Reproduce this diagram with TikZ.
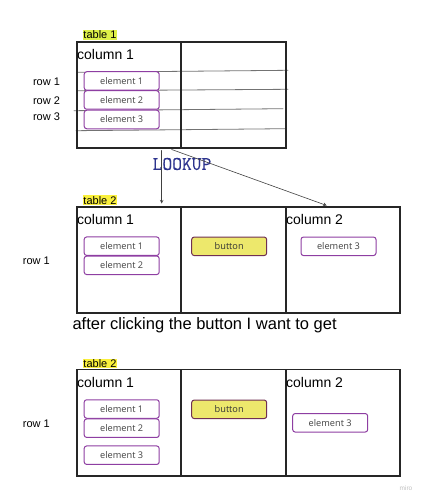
\documentclass[tikz,border=0pt]{standalone}
\usepackage{fontspec}
\setmainfont{Liberation Sans}
\newfontfamily\elemfont{Open Sans}
\newfontfamily\lookupfont{Latin Modern Mono}[FakeBold=0.5]
\usepackage{tikz}
\usetikzlibrary{calc}
\definecolor{elemedge}{RGB}{142,62,162}
\definecolor{btnfill}{RGB}{237,232,108}
\definecolor{btnedge}{RGB}{112,48,82}
\definecolor{hilite1}{RGB}{222,240,72}
\definecolor{hilite2}{RGB}{250,240,60}
\definecolor{lookupblue}{RGB}{45,52,142}
\definecolor{elemtext}{RGB}{66,66,66}

\begin{document}
\begin{tikzpicture}[x=1pt,y=-1pt,line cap=round,>=stealth]
	\tikzstyle{frame}=[line width=1.2pt,draw=black!85];
	\tikzstyle{rowline}=[line width=0.8pt,draw=black!55];
	\tikzstyle{elem}=[draw=elemedge,fill=white,line width=1pt,rounded corners=2.5pt,minimum width=75pt,minimum height=18.5pt,inner sep=0pt,font=\elemfont\fontsize{9.2}{10}\selectfont,text=elemtext];
	\tikzstyle{btn}=[elem,draw=btnedge,fill=btnfill,text=black!80];
	\tikzstyle{tag1}=[fill=hilite1,inner sep=0.8pt,font=\fontsize{11}{12}\selectfont];
	\tikzstyle{tag2}=[tag1,fill=hilite2];
	\tikzstyle{colhead}=[anchor=west,inner sep=0pt,font=\fontsize{14}{16}\selectfont];
	\tikzstyle{rowlbl}=[inner sep=0pt,font=\fontsize{11}{12}\selectfont];
	\tikzstyle{lookarrow}=[->,line width=0.6pt,draw=black!75];
	\useasboundingbox (0,0) rectangle (422,500);

	% table 1
	\draw[rowline] (77,72.3) -- (288,70.3);
	\draw[rowline] (77,90.7) -- (288,89.3);
	\draw[rowline] (74,110.7) -- (283,108.7);
	\draw[rowline] (76,130.7) -- (285.7,128.7);
	\draw[frame] (77,42) rectangle (286,148);
	\draw[frame] (181,42) -- (181,148);
	\node[tag1] (t1tag) at (100,34.8) {table 1};
	\node[colhead] (t1col1) at (77,54.3) {column 1};
	\node[elem] (t1e1) at (121.7,81) {element 1};
	\node[elem] (t1e2) at (121.7,100) {element 2};
	\node[elem] (t1e3) at (121.7,119.5) {element 3};
	\node[rowlbl] (t1r1) at (46.5,81.7) {row 1};
	\node[rowlbl] (t1r2) at (46.5,100.3) {row 2};
	\node[rowlbl] (t1r3) at (46.5,116.7) {row 3};

	% lookup
	\node[text=lookupblue,inner sep=0pt,font=\lookupfont\fontsize{19}{20}\selectfont] (lookup) at (182,164) {LOOKUP};
	\coordinate (from1) at (161.7,150.5);
	\coordinate (to1) at (161.7,203.5);
	\coordinate (from2) at (171.7,149.5);
	\coordinate (to2) at (326.7,205.5);
	\draw[lookarrow] (from1) -- (to1);
	\draw[lookarrow] (from2) -- (to2);

	% table 2
	\draw[frame] (77,207) rectangle (400,313);
	\draw[frame] (181,207) -- (181,313);
	\draw[frame] (286,207) -- (286,313);
	\node[tag2] (t2tag) at (100,200.3) {table 2};
	\node[colhead] (t2col1) at (77,219.3) {column 1};
	\node[colhead] (t2col2) at (286,219.3) {column 2};
	\node[elem] (t2e1) at (121.7,246.2) {element 1};
	\node[elem] (t2e2) at (121.7,265.3) {element 2};
	\node[btn] (t2btn) at (229.2,246.3) {button};
	\node[elem] (t2e3) at (338.5,246.3) {element 3};
	\node[rowlbl] (t2r1) at (36.3,260.7) {row 1};

	\node[anchor=west,inner sep=0pt,font=\fontsize{16.5}{18}\selectfont] (after) at (72.3,325) {after clicking the button I want to get};

	% table 2 after
	\draw[frame] (77,369.7) rectangle (400,476);
	\draw[frame] (181,369.7) -- (181,476);
	\draw[frame] (286,369.7) -- (286,476);
	\node[tag2] (t3tag) at (100,363.5) {table 2};
	\node[colhead] (t3col1) at (77,382.3) {column 1};
	\node[colhead] (t3col2) at (286,382.3) {column 2};
	\node[elem] (t3e1) at (121.7,409) {element 1};
	\node[elem] (t3e2) at (121.7,428.2) {element 2};
	\node[elem] (t3e3) at (121.7,455.2) {element 3};
	\node[btn] (t3btn) at (229.2,409.3) {button};
	\node[elem] (t3e4) at (330.2,422.8) {element 3};
	\node[rowlbl] (t3r1) at (36.3,423.3) {row 1};

	\node[text=black!25,inner sep=0pt,font=\fontsize{6.5}{7}\selectfont] (miro) at (406,488) {miro};
\end{tikzpicture}
\end{document}
